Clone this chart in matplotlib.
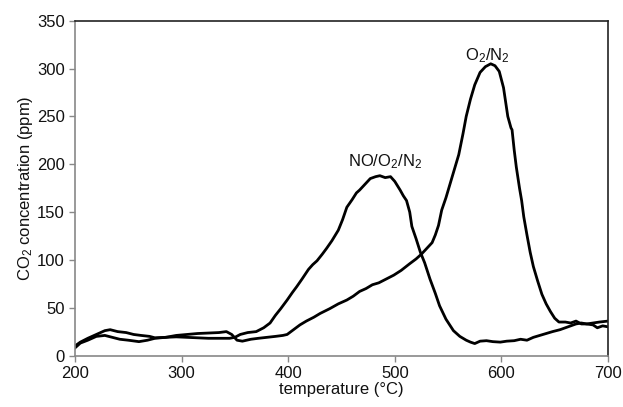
import matplotlib
matplotlib.use("Agg")
import matplotlib.pyplot as plt

plt.rcParams['font.family'] = ['Liberation Sans', 'DejaVu Sans']
plt.rcParams['mathtext.fontset'] = 'custom'
plt.rcParams['mathtext.rm'] = 'Liberation Sans'
plt.rcParams['mathtext.it'] = 'Liberation Sans:italic'

# NO/O2/N2 series
t_no = [200, 205, 212, 220, 228, 235, 242, 250, 260, 268, 275, 285, 295, 305, 315, 325,
        335, 345, 350, 355, 362, 370, 377, 383, 388, 393, 399, 404, 408, 413, 419, 423,
        427, 432, 436, 441, 447, 451, 455, 460, 464, 467, 472, 477, 482, 486, 491, 496,
        500, 505, 508, 511, 514, 516, 520, 524, 528, 533, 538, 542, 548, 555, 561, 567,
        571, 575, 580, 586, 592, 599, 605, 612, 618, 624, 630, 636, 642, 648, 655, 660,
        665, 670, 675, 680, 686, 692, 700]
c_no = [8, 13, 16, 20, 21, 19, 17, 16, 14.5, 16, 18, 19, 19.5, 19, 18.5, 18,
        18, 18, 19, 22, 24, 25, 29, 34, 42, 49, 58, 66, 72, 80, 90, 95,
        99, 106, 112, 120, 131, 142, 155, 163, 170, 173, 179, 185, 187, 188, 186, 187,
        182, 173, 167, 162, 150, 135, 122, 108, 97, 80, 65, 52, 38, 26, 20, 16,
        14, 12.5, 15, 15.5, 14.5, 14, 15, 15.5, 17, 16, 19, 21, 23, 25, 27, 29,
        31, 33, 34, 33, 34, 35, 36]

# O2/N2 series
t_o2 = [200, 205, 212, 220, 228, 233, 240, 248, 255, 262, 270, 275, 285, 295, 305, 315,
        325, 335, 342, 347, 352, 357, 365, 372, 380, 388, 395, 399, 405, 411, 417, 424,
        430, 439, 447, 455, 461, 467, 473, 479, 485, 492, 499, 506, 514, 520, 525, 530,
        535, 538, 541, 544, 548, 552, 556, 560, 564, 567, 571, 575, 580, 585, 590, 594,
        598, 602, 606, 609, 610, 612, 614, 617, 619, 621, 624, 627, 630, 634, 638, 642,
        646, 650, 654, 660, 665, 670, 675, 680, 686, 690, 695, 700]
c_o2 = [10, 14, 18, 22, 26, 27, 25, 24, 22, 21, 20, 18.5, 19, 21, 22, 23,
        23.5, 24, 25, 22, 16, 15, 17, 18, 19, 20, 21, 22, 27, 32, 36, 40,
        44, 49, 54, 58, 62, 67, 70, 74, 76, 80, 84, 89, 96, 101, 106, 112,
        118, 126, 136, 152, 165, 180, 195, 210, 232, 250, 268, 283, 296, 302, 305, 303,
        297, 280, 250, 238, 236, 215, 197, 175, 162, 145, 126, 108, 93, 78, 64, 54,
        46, 39, 35, 35, 34, 36, 33, 33, 32, 29, 31, 30]

x_ticks = [200, 300, 400, 500, 600, 700]
y_ticks = [0, 50, 100, 150, 200, 250, 300, 350]

fig = plt.figure(figsize=(6.23, 4.07), dpi=100)
ax = fig.add_axes([0.1204, 0.1265, 0.8555, 0.8225])

ax.plot(t_no, c_no, color='black', lw=2.0)
ax.plot(t_o2, c_o2, color='black', lw=2.0)

ax.set_xlim(200, 700)
ax.set_ylim(0, 350)
ax.set_xticks(x_ticks)
ax.set_yticks(y_ticks)
ax.tick_params(axis='both', labelsize=12, colors='#888888', labelcolor='#111111',
               length=4, width=1, direction='out')
for s in ['left', 'bottom']:
    ax.spines[s].set_color('#888888')
    ax.spines[s].set_linewidth(1.2)
for s in ['top', 'right']:
    ax.spines[s].set_color('#222222')
    ax.spines[s].set_linewidth(1.2)

ax.set_xlabel('temperature (°C)', fontsize=12, color='#111111', labelpad=1)
ax.set_ylabel('CO$_2$ concentration (ppm)', fontsize=12, color='#111111', labelpad=1)

ax.text(491, 203, 'NO/O$_2$/N$_2$', fontsize=12, ha='center', va='center', color='#111111')
ax.text(587, 314, 'O$_2$/N$_2$', fontsize=12, ha='center', va='center', color='#111111')

fig.savefig('out.png', dpi=100)
